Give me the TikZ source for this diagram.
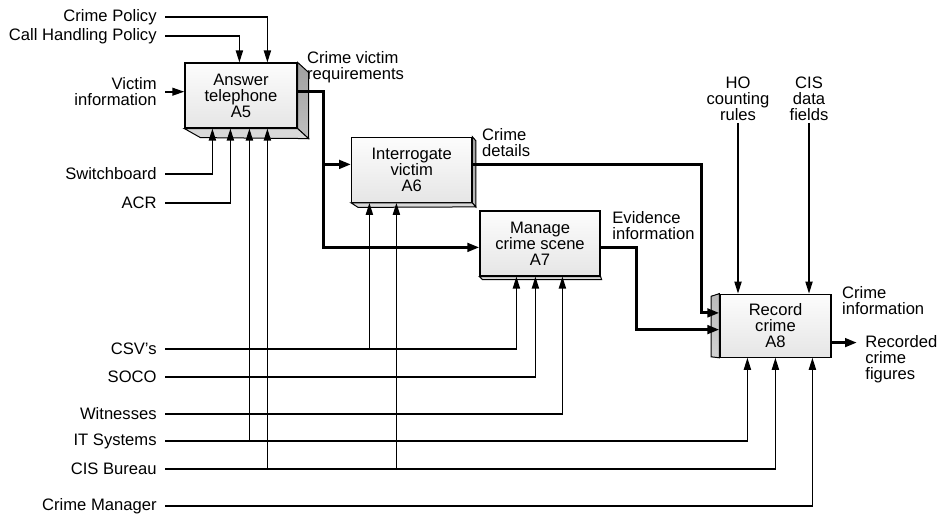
\documentclass[tikz,border=0pt]{standalone}
\usepackage{fontspec}
\setmainfont{Liberation Sans}
\usetikzlibrary{arrows.meta,calc}

\newcommand{\diafont}{\fontsize{8.3pt}{8pt}\selectfont}

\tikzset{
  activity/.style={draw=black, line width=0.6pt, top color=gray!2, bottom color=gray!20,
    minimum width=#1, minimum height=32.5pt, inner sep=0pt, align=center, font=\diafont},
  sideface/.style={draw=black, line width=0.5pt, top color=gray!75, bottom color=gray!50},
  baseface/.style={draw=black, line width=0.5pt, fill=gray!30},
  inlabel/.style={anchor=east, inner xsep=4pt, inner ysep=0pt, align=right, font=\diafont},
  outlabel/.style={anchor=west, inner sep=0pt, align=left, font=\diafont},
  ctrllabel/.style={anchor=south, inner sep=1pt, align=center, font=\diafont},
  flow/.style={line width=0.65pt, -{Triangle[length=6pt,width=3.6pt]}},
  midflow/.style={line width=1pt, -{Triangle[length=6pt,width=3.8pt]}},
  bigflow/.style={line width=1.5pt, -{Triangle[length=6pt,width=4.2pt]}}
}

\begin{document}
\begin{tikzpicture}[x=0.5pt,y=-0.5pt]
\useasboundingbox (0,0) rectangle (940,513);

% activities
\node[activity=56pt] (a5) at (241,95.5) {Answer\\telephone\\A5};
\node[activity=60pt] (a6) at (411.7,169.8) {Interrogate\\victim\\A6};
\node[activity=60pt] (a7) at (540,243.5) {Manage\\crime scene\\A7};
\node[activity=55.5pt, minimum height=31.5pt] (a8) at (775.5,325.7) {Record\\crime\\A8};

% box depth
\filldraw[sideface] (a5.north east) -- ++(11,10) -- ($(a5.south east)+(11,10)$) -- (a5.south east) -- cycle;
\filldraw[baseface] (a5.south west) -- ++(16,9) -- ($(a5.south east)+(11,10)$) -- (a5.south east) -- cycle;
\filldraw[sideface] (a6.north east) -- ++(3.5,4) -- ($(a6.south east)+(3.5,4)$) -- (a6.south east) -- cycle;
\filldraw[baseface] (a6.south west) -- ++(7,4.5) -- ($(a6.south east)+(3.5,4)$) -- (a6.south east) -- cycle;
\filldraw[baseface] (a7.south west) -- ++(3,3) -- ($(a7.south east)+(1,3)$) -- (a7.south east) -- cycle;
\filldraw[sideface, top color=gray!55, bottom color=gray!35] (a8.north west) -- ++(-8.3,2.7) -- ($(a8.south west)+(-8.3,-1)$) -- (a8.south west) -- cycle;

% inputs, controls and mechanisms
\node[inlabel] (crimepol) at (165,17) {Crime Policy};
\node[inlabel] (callpol) at (165,36) {Call Handling Policy};
\node[inlabel] (victinfo) at (165,91.7) {Victim\\information};
\node[inlabel] (switchb) at (165,174) {Switchboard};
\node[inlabel] (acr) at (165,203) {ACR};
\node[inlabel] (csv) at (165,349) {CSV’s};
\node[inlabel] (soco) at (165,377) {SOCO};
\node[inlabel] (witn) at (165,414) {Witnesses};
\node[inlabel] (itsys) at (165,441) {IT Systems};
\node[inlabel] (cisb) at (165,469) {CIS Bureau};
\node[inlabel] (crimemgr) at (165,506) {Crime Manager};

\node[ctrllabel] (hocount) at (738,123) {HO\\counting\\rules};
\node[ctrllabel] (cisfields) at (809,123) {CIS\\data\\fields};

% outputs
\node[outlabel] (reqlbl) at (306.7,67.5) {Crime victim\\requirements};
\node[outlabel] (detlbl) at (481.7,143) {Crime\\details};
\node[outlabel] (evlbl) at (612,226) {Evidence\\information};
\node[outlabel] (infolbl) at (841.7,301) {Crime\\information};
\node[outlabel, inner xsep=4pt] (figlbl) at (857,359.5) {Recorded\\crime\\figures};

% arrow points on the boxes
\foreach \n/\dx in {1/55,2/83} \coordinate (a5c\n) at ($(a5.north west)+(\dx,0)$);
\foreach \n/\dx in {1/28,2/46,3/65,4/83} \coordinate (a5m\n) at ($(a5.south west)+(\dx,0)$);
\foreach \n/\dx in {1/18.3,2/45.3} \coordinate (a6m\n) at ($(a6.south west)+(\dx,0)$);
\foreach \n/\dx in {1/37,2/56,3/83} \coordinate (a7m\n) at ($(a7.south west)+(\dx,0)$);
\foreach \n/\dx in {1/28,2/56,3/93} \coordinate (a8m\n) at ($(a8.south west)+(\dx,0)$);
\coordinate (a5o) at ($(a5.north east)+(0,28.7)$);
\coordinate (a6i) at ($(a6.north west)+(0,27.7)$);
\coordinate (a6o) at ($(a6.north east)+(0,27.7)$);
\coordinate (a7i) at ($(a7.north west)+(0,37)$);
\coordinate (a7o) at ($(a7.north east)+(0,37)$);
\coordinate (a8i1) at ($(a8.north west)+(0,19.3)$);
\coordinate (a8i2) at ($(a8.north west)+(0,36)$);
\coordinate (a8o) at ($(a8.north east)+(0,49)$);
\coordinate (split) at ($(a5o)+(26,0)$);

% controls
\draw[flow] (crimepol.east) -| (a5c2);
\draw[flow] (callpol.east) -| (a5c1);
\draw[flow] (hocount.south) -- (hocount.south |- a8.north);
\draw[flow] (cisfields.south) -- (cisfields.south |- a8.north);

% mechanisms
\draw[flow] (switchb.east) -| (a5m1);
\draw[flow] (acr.east) -| (a5m2);
\draw[flow] (csv.east) -| (a7m1);
\draw[flow] (csv.east -| a6m1) -- (a6m1);
\draw[flow] (soco.east) -| (a7m2);
\draw[flow] (witn.east) -| (a7m3);
\draw[flow] (itsys.east) -| (a8m1);
\draw[flow] (itsys.east -| a5m3) -- (a5m3);
\draw[flow] (cisb.east) -| (a8m2);
\draw[flow] (cisb.east -| a5m4) -- (a5m4);
\draw[flow] (cisb.east -| a6m2) -- (a6m2);
\draw[flow] (crimemgr.east) -| (a8m3);

% inputs and outputs
\draw[midflow] (victinfo.east) -- (victinfo.east -| a5.west);
\draw[bigflow] (a5o) -- (split) |- (a7i);
\draw[bigflow] (split |- a6i) -- (a6i);
\draw[bigflow] (a6o) -| ($(a8i1)+(-18,0)$) -- (a8i1);
\draw[bigflow] (a7o) -| ($(a8i2)+(-83,0)$) -- (a8i2);
\draw[bigflow] (a8o) -- (a8o -| figlbl.west);
\end{tikzpicture}
\end{document}
